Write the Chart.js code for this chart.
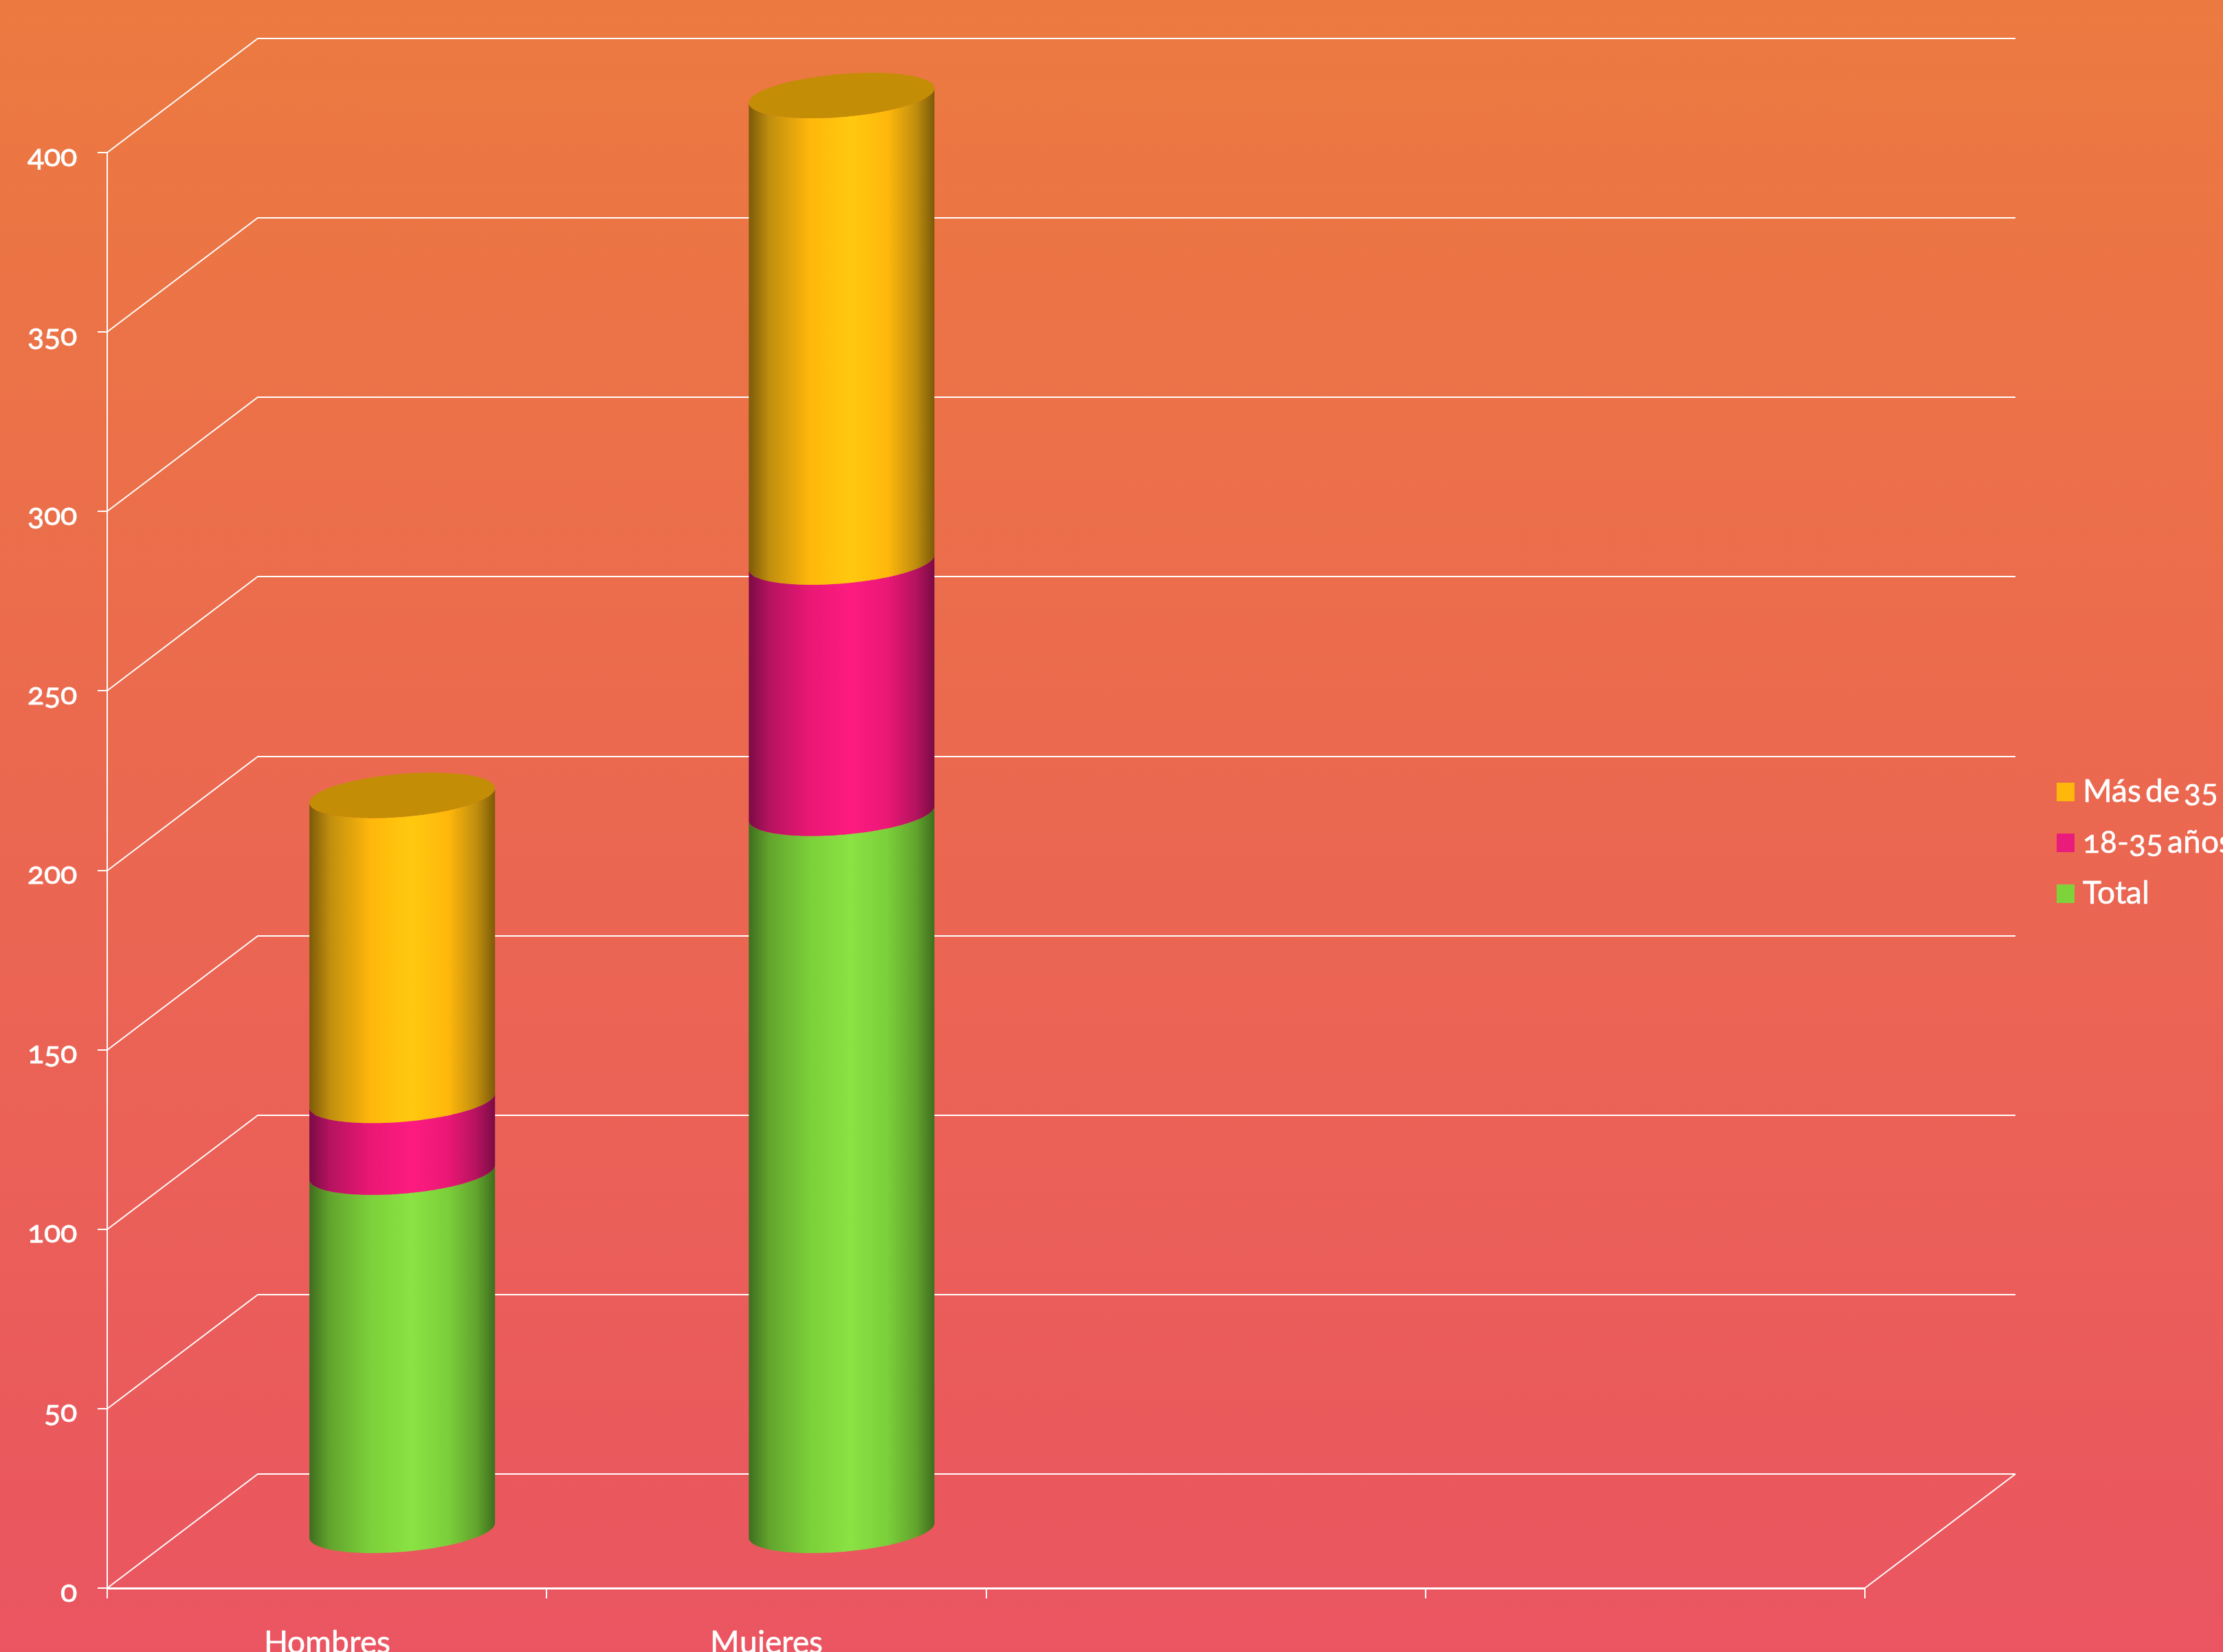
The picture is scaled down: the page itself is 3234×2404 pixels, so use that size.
<!DOCTYPE html>
<html><head><meta charset="utf-8">
<style>
@font-face{font-family:'LatoOld';src:local('Lato'),local('Lato Regular');font-feature-settings:"onum" 1;}
html,body{margin:0;padding:0;width:3234px;height:2404px;overflow:hidden;background:#EB6A50}
canvas{display:block}
</style>
<script src="https://cdn.jsdelivr.net/npm/chart.js@4"></script>
</head><body>
<canvas id="c" width="3234" height="2404"></canvas>
<script>
const categories = ['Hombres', 'Mujeres', '', ''];
const yTicks = [0, 50, 100, 150, 200, 250, 300, 350, 400];
const seriesNames = ['Total', '18-35 años', 'Más de 35 años'];
const totalValues = [100, 200, null, null];
const age18to35 = [20, 70, null, null];
const over35 = [85, 130, null, null];
const seriesColors = ['#7FD33A', '#E91B7B', '#FFB70B'];
const ramps = [
  ['#3F6E1E', '#62A42D', '#7CD03A', '#8AE243', '#7BCF3A', '#62A42D', '#3F6E1E'],
  ['#7A0B44', '#B5135F', '#EA1775', '#FE1B81', '#EA1775', '#B5135F', '#7A0B44'],
  ['#7C5A08', '#C08E0E', '#FFB70B', '#FFC90F', '#FFB70B', '#C08E0E', '#7C5A08']
];
const rampStops = [0, 0.11, 0.33, 0.55, 0.75, 0.9, 1];
const capColor = '#C48D06';
const DEPTH_X = 219, DEPTH_Y = 166, RADIUS_K = 0.199;
const LINE = '#FFFFFF';
const FONT = "'LatoOld','Lato',sans-serif";

const cylinder3D = {
  id: 'cylinder3D',
  beforeDraw(chart) {
    const {ctx, width, height} = chart;
    const g = ctx.createLinearGradient(0, 0, 0, height);
    g.addColorStop(0, '#EC7A40');
    g.addColorStop(1, '#EA5561');
    ctx.save(); ctx.fillStyle = g; ctx.fillRect(0, 0, width, height); ctx.restore();
  },
  beforeDatasetsDraw(chart) {
    const {ctx, scales: {x, y}} = chart;
    ctx.save();
    ctx.strokeStyle = LINE; ctx.lineWidth = 2; ctx.lineJoin = 'round';
    for (const v of yTicks) {
      const py = Math.round(y.getPixelForValue(v));
      ctx.beginPath();
      ctx.moveTo(x.left, py);
      ctx.lineTo(x.left + DEPTH_X, py - DEPTH_Y);
      ctx.lineTo(x.right + DEPTH_X, py - DEPTH_Y);
      ctx.stroke();
    }
    const y0 = y.getPixelForValue(0);
    ctx.beginPath();
    ctx.moveTo(x.right, y0);
    ctx.lineTo(x.right + DEPTH_X, y0 - DEPTH_Y);
    ctx.stroke();
    chart.data.datasets.forEach((ds, di) => {
      const meta = chart.getDatasetMeta(di);
      meta.data.forEach((bar, i) => {
        if (ds.data[i] == null) return;
        const W = bar.width / 2, dx = RADIUS_K * DEPTH_X, dy = RADIUS_K * DEPTH_Y;
        const r = Math.sqrt(W * W - dx * dx);
        const cx = bar.x + DEPTH_X / 2;
        const cyB = bar.base - DEPTH_Y / 2, cyT = bar.y - DEPTH_Y / 2;
        const t0 = Math.atan2(dx, r) + Math.PI;
        const pt = (t, cy) => [cx + r * Math.cos(t) + dx * Math.sin(t), cy - dy * Math.sin(t)];
        const N = 96;
        const g = ctx.createLinearGradient(cx - W, 0, cx + W, 0);
        ramps[di].forEach((c, k) => g.addColorStop(rampStops[k], c));
        ctx.beginPath();
        for (let k = 0; k <= N; k++) {
          const p = pt(t0 + Math.PI * k / N, cyB);
          k ? ctx.lineTo(p[0], p[1]) : ctx.moveTo(p[0], p[1]);
        }
        for (let k = N; k >= 0; k--) {
          const p = pt(t0 + Math.PI * k / N, cyT);
          ctx.lineTo(p[0], p[1]);
        }
        ctx.closePath();
        ctx.fillStyle = g; ctx.fill();
        if (di === chart.data.datasets.length - 1) {
          ctx.beginPath();
          for (let k = 0; k <= 2 * N; k++) {
            const p = pt(t0 + Math.PI * k / N, cyT);
            k ? ctx.lineTo(p[0], p[1]) : ctx.moveTo(p[0], p[1]);
          }
          ctx.closePath();
          ctx.fillStyle = capColor; ctx.fill();
        }
      });
    });
    ctx.restore();
    return false;
  },
  afterDraw(chart) {
    const {ctx} = chart;
    ctx.save();
    ctx.font = "46px " + FONT;
    ctx.wordSpacing = '-6px';
    ctx.textBaseline = 'alphabetic';
    ctx.textAlign = 'left';
    ctx.lineWidth = 0.6;
    ctx.strokeStyle = '#FFFFFF';
    chart.data.datasets.slice().reverse().forEach((ds, i) => {
      const top = 1139 + i * 74;
      ctx.fillStyle = ds.backgroundColor;
      ctx.fillRect(2992, top, 26, 27);
      ctx.fillStyle = '#FFFFFF';
      ctx.fillText(ds.label, 3030, top + 28);
      ctx.strokeText(ds.label, 3030, top + 28);
    });
    ctx.restore();
  }
};

const chart = new Chart(document.getElementById('c'), {
  type: 'bar',
  data: {
    labels: categories,
    datasets: [
      {label: seriesNames[0], data: totalValues, backgroundColor: seriesColors[0]},
      {label: seriesNames[1], data: age18to35, backgroundColor: seriesColors[1]},
      {label: seriesNames[2], data: over35, backgroundColor: seriesColors[2]}
    ]
  },
  options: {
    responsive: false,
    animation: false,
    layout: {padding: {left: 0, top: 222, right: 521, bottom: 0}},
    plugins: {legend: {display: false}, tooltip: {enabled: false}},
    datasets: {bar: {categoryPercentage: 1, barPercentage: 0.4224}},
    scales: {
      x: {
        stacked: true,
        afterFit: s => { s.height = 93; },
        grid: {display: true, drawOnChartArea: false, drawTicks: true, tickLength: 15, color: LINE, lineWidth: 2, offset: true},
        border: {display: true, color: LINE, width: 3},
        ticks: {color: '#FFFFFF', font: {family: FONT, size: 46}, padding: 38, maxRotation: 0, autoSkip: false, textStrokeColor: '#FFFFFF', textStrokeWidth: 0.6}
      },
      y: {
        stacked: true,
        min: 0, max: 400,
        afterFit: s => { s.width = 156; },
        grid: {display: true, drawOnChartArea: false, drawTicks: true, tickLength: 14, color: LINE, lineWidth: 2},
        border: {display: true, color: LINE, width: 2},
        ticks: {color: '#FFFFFF', stepSize: 50, font: {family: FONT, size: 45}, padding: 30, labelOffset: 5, textStrokeColor: '#FFFFFF', textStrokeWidth: 0.8}
      }
    }
  },
  plugins: [cylinder3D]
});
document.fonts.load("44px LatoOld").then(() => chart.update('none')).catch(() => {});
</script>
</body></html>
